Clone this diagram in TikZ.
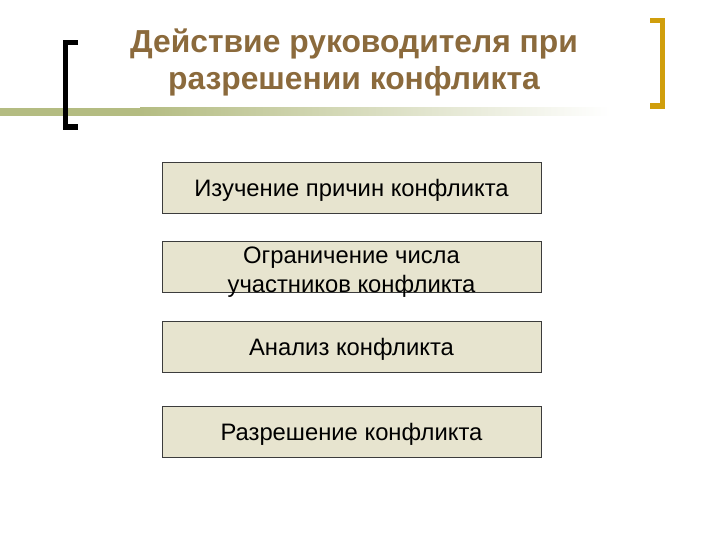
\documentclass[tikz,border=0pt]{standalone}
\usepackage{fontspec}
\setmainfont{Liberation Sans}
\usepackage{tikz}

\definecolor{titlebrown}{HTML}{8B6A3C}
\definecolor{bargreen}{HTML}{B4BC82}
\definecolor{boxfill}{HTML}{E7E4CF}
\definecolor{boxline}{HTML}{3C3C3C}
\definecolor{goldbr}{HTML}{D09E0C}

\begin{document}
\begin{tikzpicture}[x=1pt,y=-1pt,
    stepbox/.style={draw=boxline,line width=0.9pt,fill=boxfill,
      minimum width=379pt,minimum height=51pt,inner sep=0pt,
      text height=23.5pt,text depth=5pt,
      align=center,font=\fontsize{23.8}{29}\selectfont},
    headline/.style={text=titlebrown,align=center,
      font=\fontsize{31.8}{37}\selectfont\bfseries}]
        \useasboundingbox(0,0) rectangle (720,540);
        % band under the title
        \fill[bargreen](0,108) rectangle (140,116);
        \shade[left color=bargreen,right color=white](140,108) rectangle (610,116);
        % brackets
        \draw[line width=5.5pt,black](78,42.75)--(65.5,42.75)--(65.5,127.25)--(78,127.25);
        \draw[line width=5.5pt,goldbr](650,20.75)--(662.5,20.75)--(662.5,106.25)--(650,106.25);
        % title
        \node[headline](title) at (354,62) {Действие руководителя при\\разрешении конфликта};
        % steps
        \node[stepbox](s1) at (351.5,187.5) {Изучение причин конфликта};
        \node[stepbox,text height=56pt,inner ysep=-5.2pt](s2) at (351.5,266.5) {Ограничение числа\\участников конфликта};
        \node[stepbox](s3) at (351.5,346.5) {Анализ конфликта};
        \node[stepbox](s4) at (351.5,431.5) {Разрешение конфликта};
    \end{tikzpicture}
\end{document}
